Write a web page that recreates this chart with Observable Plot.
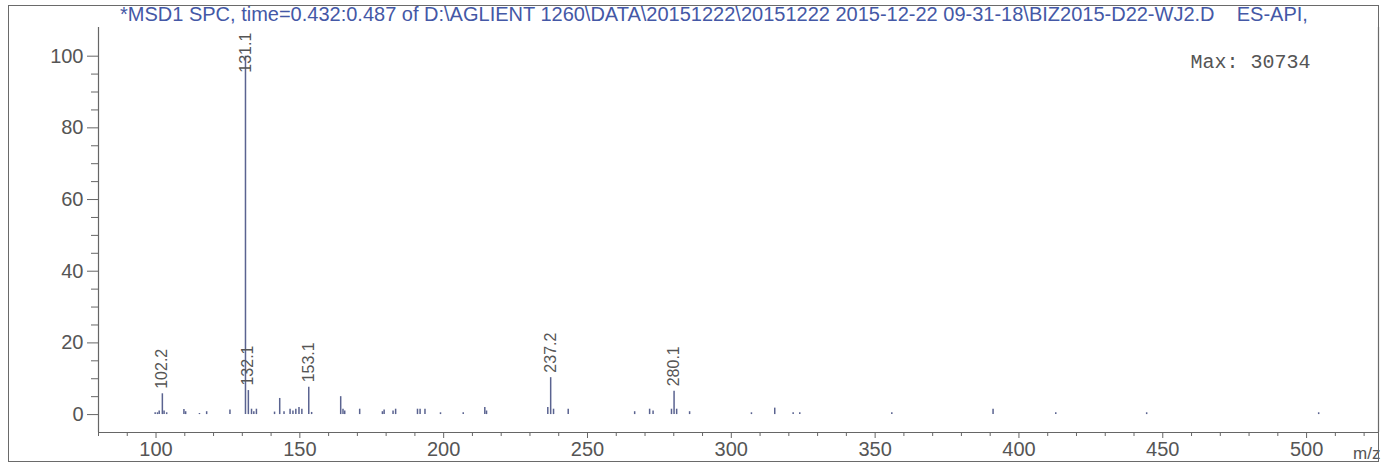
<!DOCTYPE html>
<html><head><meta charset="utf-8">
<script src="https://cdn.jsdelivr.net/npm/d3@7"></script>
<script src="https://cdn.jsdelivr.net/npm/@observablehq/plot@0.6"></script>
<style>
html,body{margin:0;padding:0;background:#fff;}
#wrap{position:relative;width:1389px;height:466px;overflow:hidden;}
#frame{position:absolute;left:8px;top:5px;width:1371px;height:457px;border:1px solid #6a6a6a;box-sizing:border-box;pointer-events:none;}
#title{position:absolute;left:120px;top:3px;height:22px;line-height:22px;font-family:"Liberation Sans",Arial,sans-serif;font-size:20px;color:#4458a6;white-space:pre;}
#chart{position:absolute;left:0;top:22px;}
</style></head><body>
<div id="wrap"><div id="title"></div><div id="chart"></div><div id="frame"></div></div>
<script>
// ---- data ----
const titleText = "*MSD1 SPC, time=0.432:0.487 of D:\\AGLIENT 1260\\DATA\\20151222\\20151222 2015-12-22 09-31-18\\BIZ2015-D22-WJ2.D    ES-API,";
const maxIntensity = 30734;
const peakMz = [99.7,100.5,101.1,102.2,102.8,103.7,109.7,110.3,115.1,117.6,125.7,131.1,132.1,133.2,134.0,134.9,141.2,143.0,144.5,146.6,147.6,148.6,149.7,150.7,153.1,154.1,164.2,165.0,165.6,170.8,178.7,179.3,182.4,183.3,190.9,191.8,193.5,198.9,206.8,214.3,214.9,236.2,237.2,238.2,243.3,266.4,271.6,272.8,279.2,280.1,281.0,285.5,307.0,315.1,321.5,323.8,355.8,391.0,412.8,444.4,504.2];
const peakInt = [0.5,0.5,1.0,5.8,1.0,0.5,1.4,0.8,0.3,0.8,1.3,100,6.7,1.5,0.8,1.5,0.7,4.5,0.8,1.5,1.0,1.5,2.0,1.5,7.6,0.6,5.0,1.5,1.0,1.5,0.8,1.3,1.0,1.5,1.5,1.5,1.5,0.5,0.5,2.0,1.0,2.0,10.3,1.5,1.5,0.8,1.5,1.0,1.5,6.5,1.5,0.8,0.5,1.8,0.5,0.5,0.5,1.5,0.5,0.5,0.5];
const labelMz = [102.2,131.1,132.1,153.1,237.2,280.1];
const xMajorTicks = [100,150,200,250,300,350,400,450,500];
const yMajorTicks = [0,20,40,60,80,100];
const axisLabelX = "m/z";

// ---- build ----
document.getElementById("title").textContent = titleText;
const peaks = peakMz.map((m,i)=>({mz:m, i:peakInt[i]}));
const labels = labelMz.map(m=>({mz:m, i:peaks.find(p=>p.mz===m).i, t:m.toFixed(1)}));
const xMinor = d3.range(80, 526, 10).filter(v=>!xMajorTicks.includes(v));
const yMinor = d3.range(0, 101, 5).filter(v=>!yMajorTicks.includes(v));
const axisColor = "#666";
const textColor = "#555";

const chart = Plot.plot({
  width:1389, height:444,
  marginLeft:98, marginRight:11, marginTop:5, marginBottom:34,
  x:{domain:[80,525], label:null},
  y:{domain:[-5,108], label:null},
  style:{fontFamily:"'Liberation Sans', Arial, sans-serif", fontSize:"20px", color:textColor, background:"transparent"},
  marks:[
    Plot.axisX({ticks:xMinor, tickSize:4, tickFormat:()=>"", label:null, stroke:axisColor}),
    Plot.axisX({ticks:xMajorTicks, tickSize:6, tickPadding:3, label:null, stroke:axisColor, fill:textColor, fontSize:20}),
    Plot.axisY({ticks:yMinor, tickSize:7, tickFormat:()=>"", label:null, stroke:axisColor}),
    Plot.axisY({ticks:yMajorTicks, tickSize:11, tickPadding:4, label:null, stroke:axisColor, fill:textColor, fontSize:20}),
    Plot.ruleY([-5], {stroke:axisColor, strokeWidth:1.2}),
    Plot.ruleX([80], {stroke:axisColor, strokeWidth:1.2}),
    Plot.ruleX([525], {stroke:axisColor, strokeWidth:1.2}),
    Plot.ruleX(peaks, {x:"mz", y1:0, y2:"i", stroke:"#5a6390", strokeWidth:1.5}),
    Plot.text(labels, {x:"mz", y:d=>Math.min(d.i, 94), text:"t", rotate:-90, textAnchor:"start", dy:-5, fontSize:16, fill:textColor}),
    Plot.text([`Max: ${maxIntensity}`], {frameAnchor:"top-right", textAnchor:"end", lineAnchor:"top", dx:-68, dy:26, fontFamily:"'Liberation Mono', 'DejaVu Sans Mono', monospace", fontSize:20, fill:textColor}),
    Plot.text([axisLabelX], {frameAnchor:"bottom-right", textAnchor:"end", lineAnchor:"bottom", dx:2, dy:26, fontSize:17, fill:textColor})
  ]
});
document.getElementById("chart").appendChild(chart);
</script>
</body></html>
